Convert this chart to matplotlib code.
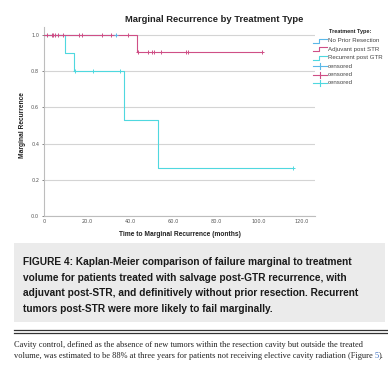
import matplotlib
matplotlib.use("Agg")
import matplotlib.pyplot as plt
from matplotlib.lines import Line2D
from matplotlib.patches import Rectangle

# ---------------- data ----------------
# step curves: (time at which each level starts, survival level), last entry = end time
nopr_t = [0, 33.4]
nopr_s = [1.0, 1.0]
nopr_cens_t = [33.4]
nopr_cens_s = [1.0]

adj_t = [0, 43.2, 101.4]
adj_s = [1.0, 0.909, 0.909]
adj_cens_t = [1.5, 3.6, 4.3, 5.1, 6.7, 8.7, 16.4, 17.5, 26.8, 31.3, 38.9,
              43.8, 48.5, 50.1, 51.2, 54.4, 66.0, 66.8, 101.4]
adj_cens_s = [1.0] * 11 + [0.909] * 8

rec_t = [0, 9.8, 14.0, 37.0, 53.0, 116.0]
rec_s = [1.0, 0.9, 0.8, 0.533, 0.267, 0.267]
rec_cens_t = [14.4, 22.8, 35.3, 116.0]
rec_cens_s = [0.8, 0.8, 0.8, 0.267]

xticks = [0, 20, 40, 60, 80, 100, 120]
xtick_labels = ["0", "20.0", "40.0", "60.0", "80.0", "100.0", "120.0"]
yticks = [0.0, 0.2, 0.4, 0.6, 0.8, 1.0]
ytick_labels = ["0.0", "0.2", "0.4", "0.6", "0.8", "1.0"]

legend_labels = ["No Prior Resection", "Adjuvant post STR", "Recurrent post GTR",
                 "censored", "censored", "censored"]

title = "Marginal Recurrence by Treatment Type"
xlabel = "Time to Marginal Recurrence (months)"
ylabel = "Marginal Recurrence"
caption = ("FIGURE 4: Kaplan-Meier comparison of failure marginal to treatment\n"
           "volume for patients treated with salvage post-GTR recurrence, with\n"
           "adjuvant post-STR, and definitively without prior resection. Recurrent\n"
           "tumors post-STR were more likely to fail marginally.")
body1 = ("Cavity control, defined as the absence of new tumors within the resection "
         "cavity but outside the treated")
body2 = ("volume, was estimated to be 88% at three years for patients not receiving "
         "elective cavity radiation (Figure ")
body_ref = "5"
body_end = ")."

# ---------------- style ----------------
C_NOPR = "#5BB8E8"
C_ADJ = "#CF4F86"
C_REC = "#4FD8DF"
GRID = "#d4d4d4"

W, H = 388, 372
fig = plt.figure(figsize=(W / 100, H / 100), dpi=100)


def fx(x):
    return x / W


def fy(y):
    return 1 - y / H


ax_l, ax_r, ax_b, ax_t = 44, 315, 216, 27
ax = fig.add_axes([fx(ax_l), fy(ax_b), (ax_r - ax_l) / W, (ax_b - ax_t) / H])
ax.set_xlim(0, 126)
ax.set_ylim(0, 1.045)

for y in yticks:
    ax.axhline(y, color=GRID, lw=0.8, zorder=0)

ax.step(nopr_t, nopr_s, where="post", color=C_NOPR, lw=0.8, zorder=2)
ax.step(rec_t, rec_s, where="post", color=C_REC, lw=0.8, zorder=2)
ax.step(adj_t, adj_s, where="post", color=C_ADJ, lw=0.8, zorder=3)
ax.plot(rec_cens_t, rec_cens_s, ls="none", marker="+", color=C_REC, ms=3.5, mew=0.7, zorder=4)
ax.plot(adj_cens_t, adj_cens_s, ls="none", marker="+", color=C_ADJ, ms=3.5, mew=0.7, zorder=4)
ax.plot(nopr_cens_t, nopr_cens_s, ls="none", marker="+", color=C_NOPR, ms=3.5, mew=0.7, zorder=5)

for s in ["top", "right"]:
    ax.spines[s].set_visible(False)
for s in ["left", "bottom"]:
    ax.spines[s].set_color("#bdbdbd")
    ax.spines[s].set_linewidth(0.8)
ax.set_xticks(xticks)
ax.set_xticklabels(xtick_labels)
ax.set_yticks(yticks)
ax.set_yticklabels(ytick_labels)
ax.tick_params(axis="both", labelsize=3.6, colors="#555555", length=1.5, width=0.5, pad=2)
ax.tick_params(axis="x", length=0)

fig.text(fx(214), fy(20), title, ha="center", va="center", fontsize=6.75,
         fontweight="bold", family="Liberation Sans", color="#222222")
fig.text(fx(180), fy(235), xlabel, ha="center", va="center", fontsize=4.8,
         fontweight="bold", family="Liberation Sans", color="#222222")
fig.text(fx(23), fy(125), ylabel, ha="center", va="center", fontsize=4.8,
         fontweight="bold", family="Liberation Sans", color="#222222", rotation=90)

# legend (manual)
fig.text(fx(350), fy(32), "Treatment Type:", ha="center", va="center", fontsize=4.0,
         fontweight="bold", family="Liberation Sans", color="#222222")
leg_colors = [C_NOPR, C_ADJ, C_REC, C_NOPR, C_ADJ, C_REC]
leg_y = [40.5, 49.0, 57.5, 66.0, 74.5, 83.0]
for i, (lab, col, yy) in enumerate(zip(legend_labels, leg_colors, leg_y)):
    if i < 3:
        xs = [313, 319, 319, 327]
        ys = [yy + 2, yy + 2, yy - 2, yy - 2]
        fig.add_artist(Line2D([fx(v) for v in xs], [fy(v) for v in ys], color=col, lw=0.8))
    else:
        fig.add_artist(Line2D([fx(313), fx(327)], [fy(yy), fy(yy)], color=col, lw=0.8))
        fig.add_artist(Line2D([fx(320), fx(320)], [fy(yy - 3), fy(yy + 3)], color=col, lw=0.8))
    fig.text(fx(328), fy(yy), lab, ha="left", va="center", fontsize=4.4,
             family="Liberation Sans", color="#444444")

# caption box
fig.add_artist(Rectangle((fx(14), fy(322)), (385 - 14) / W, (322 - 243) / H,
                         facecolor="#ebebeb", edgecolor="none"))
fig.text(fx(23), fy(285.5), caption, ha="left", va="center", fontsize=7.25,
         fontweight="bold", family="Liberation Sans", color="#1a1a1a", linespacing=1.68)

# double rule
fig.add_artist(Line2D([fx(14), fx(388)], [fy(329.5), fy(329.5)], color="#333333", lw=0.9))
fig.add_artist(Line2D([fx(14), fx(388)], [fy(332.5), fy(332.5)], color="#333333", lw=0.9))

# body text
FS_BODY = 6.0
fig.text(fx(14), fy(345), body1, ha="left", va="center", fontsize=FS_BODY,
         family="Liberation Serif", color="#222222")
t2 = fig.text(fx(14), fy(356), body2, ha="left", va="center", fontsize=FS_BODY,
              family="Liberation Serif", color="#222222")
fig.canvas.draw()
bb = t2.get_window_extent()
t3 = fig.text(bb.x1 / W, fy(356), body_ref, ha="left", va="center",
              fontsize=FS_BODY, family="Liberation Serif", color="#3a6fc4")
fig.canvas.draw()
bb3 = t3.get_window_extent()
fig.text(bb3.x1 / W, fy(356), body_end, ha="left", va="center",
         fontsize=FS_BODY, family="Liberation Serif", color="#222222")

fig.savefig("out.png", dpi=100)
